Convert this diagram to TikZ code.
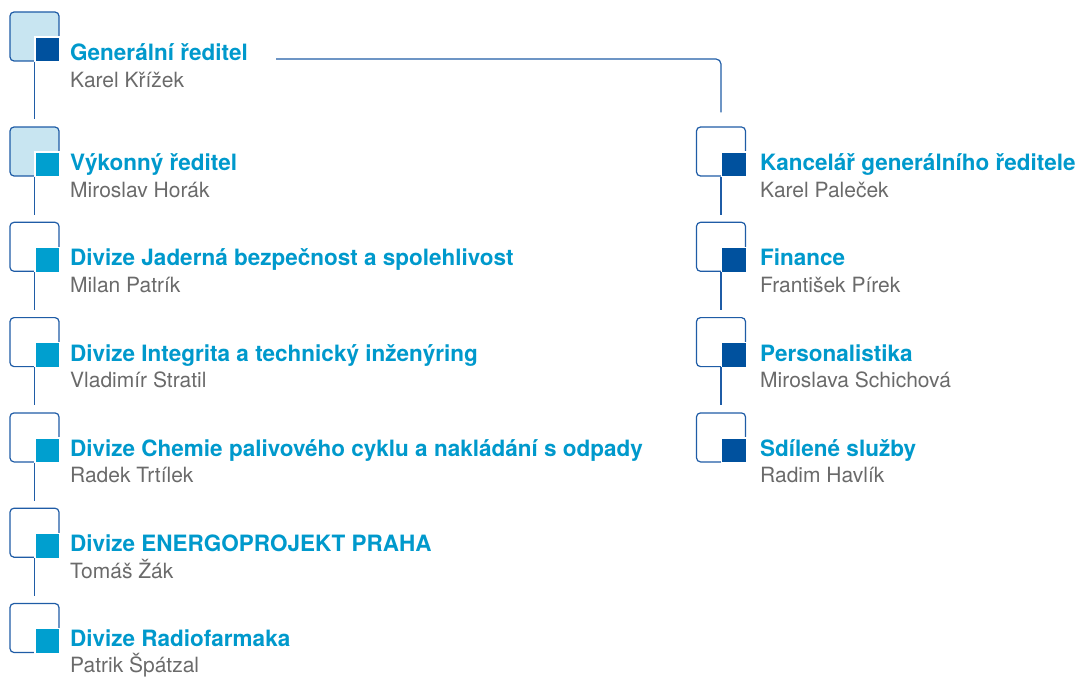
\documentclass[tikz,border=0pt]{standalone}
\usepackage{fontspec}
\setmainfont{TeX Gyre Heros}
\usetikzlibrary{positioning}

\definecolor{titlecyan}{HTML}{0099CC}
\definecolor{lineblue}{HTML}{1F5CA6}
\definecolor{darksq}{HTML}{00519E}
\definecolor{lightsq}{HTML}{009FCF}
\definecolor{boxfill}{HTML}{C8E5F1}
\definecolor{namegray}{HTML}{6A6A6A}

\tikzset{
  unitbox/.style={draw=lineblue, line width=1.2pt, rounded corners=4pt,
    minimum size=49pt, inner sep=0pt},
  marker/.style={draw=white, line width=1.2pt, minimum size=25pt, inner sep=0pt},
  title/.style={anchor=base west, inner sep=0pt, text=titlecyan,
    font=\fontsize{22.5}{26}\selectfont\bfseries},
  person/.style={anchor=base west, inner sep=0pt, text=namegray,
    font=\fontsize{21}{24}\selectfont},
  link/.style={draw=lineblue, line width=1.2pt},
}

% one unit: name, box x, box top, box fill, marker fill, text x, title, head,
% title baseline below box top
\newcommand{\orgunit}[9]{%
  \node[unitbox, fill=#4] (#1) at (#2,#3+24.5) {};
  \node[marker, fill=#5] (#1-sq) at ([xshift=13pt,yshift=-13pt]#1.center) {};
  \node[title] (#1-t) at (#6,#3+#9) {#7};
  \node[person] (#1-p) at (#6,#3+#9+26.5) {#8};
}

\begin{document}
\begin{tikzpicture}[x=1pt,y=-1pt]
  \useasboundingbox (0,0) rectangle (1081,677);

  %%% left column
  \orgunit{gr}{34.5}{12}{boxfill}{darksq}{70}{Generální ředitel}{Karel Křížek}{48.5}
  \orgunit{vr}{34.5}{127}{boxfill}{lightsq}{70}{Výkonný ředitel}{Miroslav Horák}{43.5}
  \orgunit{jb}{34.5}{222.3}{white}{lightsq}{70}{Divize Jaderná bezpečnost a spolehlivost}{Milan Patrík}{43.5}
  \orgunit{it}{34.5}{317.6}{white}{lightsq}{70}{Divize Integrita a technický inženýring}{Vladimír Stratil}{43.5}
  \orgunit{ch}{34.5}{412.9}{white}{lightsq}{70}{Divize Chemie palivového cyklu a nakládání s odpady}{Radek Trtílek}{43.5}
  \orgunit{ep}{34.5}{508.2}{white}{lightsq}{70}{Divize ENERGOPROJEKT PRAHA}{Tomáš Žák}{43.5}
  \orgunit{rf}{34.5}{603.5}{white}{lightsq}{70}{Divize Radiofarmaka}{Patrik Špátzal}{42.5}

  %%% right column
  \orgunit{kgr}{721}{127}{white}{darksq}{760}{Kancelář generálního ředitele}{Karel Paleček}{43.5}
  \orgunit{fin}{721}{222.3}{white}{darksq}{760}{Finance}{František Pírek}{43.5}
  \orgunit{per}{721}{317.6}{white}{darksq}{760}{Personalistika}{Miroslava Schichová}{43.5}
  \orgunit{sdi}{721}{412.9}{white}{darksq}{760}{Sdílené služby}{Radim Havlík}{43.5}

  %%% links
  \foreach \a/\b in {gr/vr, vr/jb, jb/it, it/ch, ch/ep, ep/rf, kgr/fin, fin/per, per/sdi}
    \draw[link, shorten >=7pt] (\a) -- (\b);
  \draw[link, rounded corners=5pt] ([xshift=28pt,yshift=1.5pt]gr-t.base east)
    -| ([yshift=14pt]kgr.north);
\end{tikzpicture}
\end{document}
